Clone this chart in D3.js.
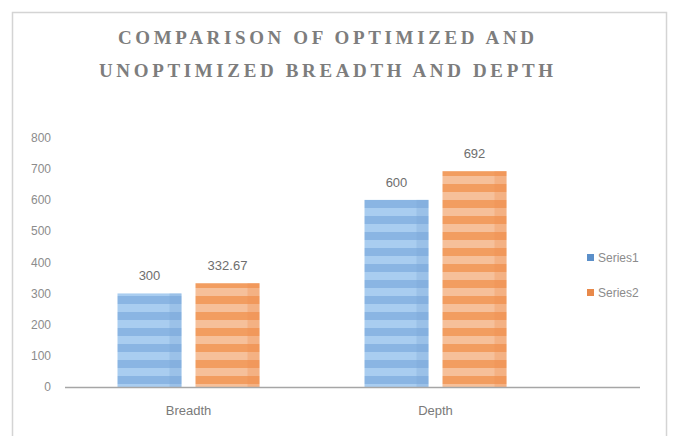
<!DOCTYPE html>
<html><head><meta charset="utf-8">
<script src="https://cdn.jsdelivr.net/npm/d3@7"></script>
<style>body{margin:0;background:#fff}svg{display:block}</style>
</head><body>
<script>
const categories = ["Breadth", "Depth"];
const seriesNames = ["Series1", "Series2"];
const series1 = [300, 600];
const series2 = [332.67, 692];
const series1Labels = ["300", "600"];
const series2Labels = ["332.67", "692"];
const yTicks = [0, 100, 200, 300, 400, 500, 600, 700, 800];
const titleLines = ["COMPARISON OF OPTIMIZED AND", "UNOPTIMIZED BREADTH AND DEPTH"];

const W = 673, H = 436;
const svg = d3.select("body").append("svg").attr("width", W).attr("height", H);

// patterns
const defs = svg.append("defs");
function stripe(id, light, dark) {
  const p = defs.append("pattern").attr("id", id).attr("patternUnits", "userSpaceOnUse")
    .attr("width", 64).attr("height", 16);
  p.append("rect").attr("width", 64).attr("height", 16).attr("fill", light);
  p.append("rect").attr("y", 8).attr("width", 64).attr("height", 8).attr("fill", dark);
  return p;
}
stripe("p1", "#a9cdf0", "#8ab5e3");
stripe("p2", "#f6c09a", "#f29d60");

// frame
svg.append("rect").attr("x", 12.5).attr("y", 12.5).attr("width", 654).attr("height", 430)
  .attr("fill", "#fff").attr("stroke", "#d4d4d4").attr("stroke-width", 1.5);

// title
svg.selectAll("text.title").data(titleLines).join("text").attr("class", "title")
  .attr("x", 326).attr("y", (d, i) => 44 + i * 33)
  .attr("text-anchor", "middle")
  .attr("font-family", "Liberation Serif, DejaVu Serif, serif")
  .attr("font-weight", "bold").attr("font-size", 19)
  .attr("textLength", (d, i) => i === 0 ? 416 : 454).attr("lengthAdjust", "spacing")
  .attr("fill", "#7d7d7d").text(d => d);

const x0 = d3.scaleBand().domain(categories).range([65, 559]);
const y = d3.scaleLinear().domain([0, 800]).range([387, 137.5]);
const barW = 64, gap = 14;
const x1 = d3.scaleOrdinal().domain(seriesNames).range([-(barW + gap / 2), gap / 2]);

// y ticks
const yAxis = svg.append("g").attr("transform", "translate(51,0)")
  .call(d3.axisLeft(y).tickValues(yTicks).tickSize(0).tickPadding(0));
yAxis.select(".domain").remove();
yAxis.selectAll("text").attr("font-family", "Liberation Sans, Arial, sans-serif")
  .attr("font-size", 12).attr("fill", "#8c8c8c");

const data = [
  { name: "Series1", values: series1, labels: series1Labels, fill: "url(#p1)", edge: "#7aa6d6", legend: "#5b8fc9" },
  { name: "Series2", values: series2, labels: series2Labels, fill: "url(#p2)", edge: "#ee8f4e", legend: "#e8894a" }
];

data.forEach(s => {
  const g = svg.append("g");
  categories.forEach((c, i) => {
    const bx = x0(c) + x0.bandwidth() / 2 + x1(s.name);
    const top = y(s.values[i]);
    g.append("rect").attr("x", bx).attr("y", top).attr("width", barW).attr("height", y(0) - top)
      .attr("fill", s.fill);
    g.append("rect").attr("x", bx + barW - 12).attr("y", top).attr("width", 12).attr("height", y(0) - top)
      .attr("fill", s.edge).attr("opacity", 0.3);
    g.append("text").attr("x", bx + barW / 2).attr("y", top - 13).attr("text-anchor", "middle")
      .attr("font-family", "Liberation Sans, Arial, sans-serif").attr("font-size", 13)
      .attr("fill", "#6e6e6e").text(s.labels[i]);
  });
});

// x axis
const xAxis = svg.append("g").attr("transform", "translate(0,387)")
  .call(d3.axisBottom(x0).tickSize(0).tickPadding(19));
xAxis.select(".domain").attr("d", "M65,0.5H640").attr("stroke", "#a6a6a6").attr("stroke-width", 1.5);
xAxis.selectAll("text").attr("font-family", "Liberation Sans, Arial, sans-serif")
  .attr("font-size", 13).attr("fill", "#7a7a7a");

// legend
const lg = svg.append("g");
data.forEach((s, i) => {
  lg.append("rect").attr("x", 587).attr("y", 254 + i * 35).attr("width", 7).attr("height", 7).attr("fill", s.legend);
  lg.append("text").attr("x", 598).attr("y", 262 + i * 35)
    .attr("font-family", "Liberation Sans, Arial, sans-serif").attr("font-size", 12)
    .attr("fill", "#8c8c8c").text(s.name);
});
</script>
</body></html>
